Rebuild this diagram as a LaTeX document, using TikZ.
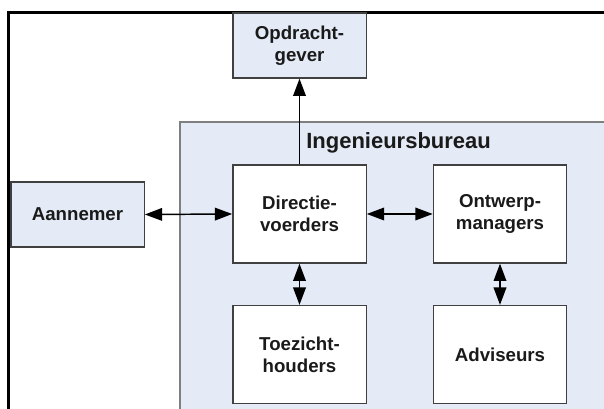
\documentclass[tikz,border=0pt]{standalone}
\usepackage{fontspec}
\setmainfont{Liberation Sans}
\usetikzlibrary{arrows.meta}
\definecolor{paleblue}{HTML}{E4EBF6}
\definecolor{boxline}{HTML}{404040}
\definecolor{deptline}{HTML}{7F7F7F}
\definecolor{inkcol}{HTML}{1A1A1A}
\tikzset{
  unit/.style={draw=boxline, line width=1pt, fill=white, minimum width=100pt,
    minimum height=73.5pt, align=center, inner sep=0pt, text=inkcol,
    font=\bfseries\fontsize{14}{16.5}\selectfont},
  party/.style={unit, fill=paleblue, minimum height=48.75pt},
  tip/.style={Triangle[length=13pt,width=9.5pt]},
  link/.style={line width=1.1pt, draw=black, {Triangle[length=13pt,width=9.5pt]}-{Triangle[length=13pt,width=9.5pt]}},
  uplink/.style={line width=1.1pt, draw=black, -{Triangle[length=13pt,width=9.5pt]}}
}
\begin{document}
\begin{tikzpicture}[x=0.75pt,y=-0.75pt]
\useasboundingbox (0,0) rectangle (604,409);
\clip (0,0) rectangle (604,409);
% engineering firm area, open to the right and below
\fill[paleblue] (180,122) rectangle (630,430);
\draw[draw=deptline, line width=1.1pt] (180,430) -- (180,122) -- (630,122);
\node[anchor=base west, font=\bfseries\fontsize{16.5}{19}\selectfont, text=inkcol, inner sep=0pt] (firm) at (306,149) {Ingenieursbureau};
% outer frame, open to the right and below
\draw[line width=1.9pt] (8.5,430) -- (8.5,12.5) -- (630,12.5);
% parties
\node[party] (opdr) at (299.5,45.5) {Opdracht-\\gever};
\node[party] (aann) at (77.5,214.5) {Aannemer};
% units inside the firm
\node[unit] (dir) at (299.5,214) {Directie-\\voerders};
\node[unit] (ontw) at (500,214) {Ontwerp-\\managers};
\node[unit] (toez) at (299.5,354.5) {Toezicht-\\houders};
\node[unit] (adv) at (500,354.5) {Adviseurs};
% connectors
\draw[uplink] (dir.north) -- (opdr.south);
\draw[link] (aann.east) -- (dir.west);
\draw[link] (dir.east) -- (ontw.west);
\draw[link] (dir.south) -- (toez.north);
\draw[link] (ontw.south) -- (adv.north);
\end{tikzpicture}
\end{document}
